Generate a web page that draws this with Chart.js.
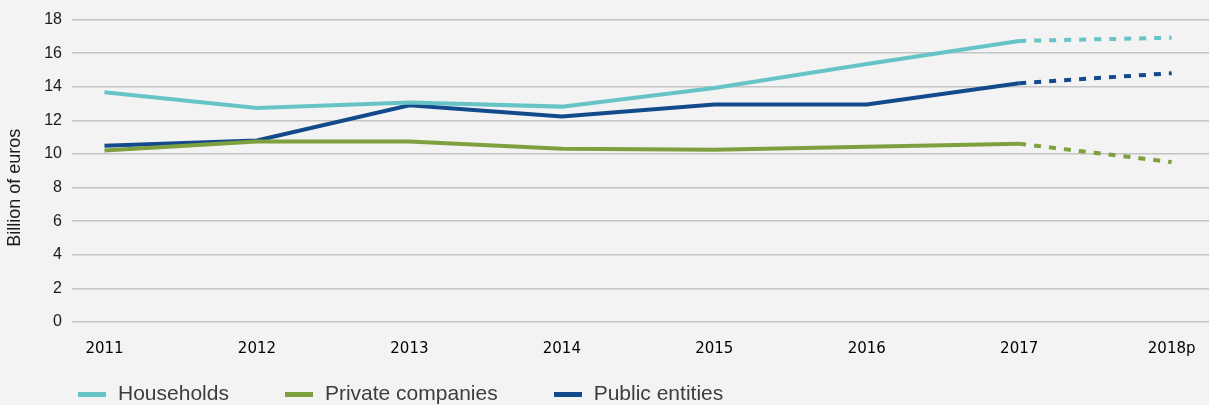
<!DOCTYPE html>
<html>
<head>
<meta charset="utf-8">
<script src="https://cdn.jsdelivr.net/npm/chart.js@4/dist/chart.umd.min.js"></script>
<style>
  html, body { margin: 0; padding: 0; background: #f3f3f3; }
  #wrap { position: relative; width: 1209px; height: 405px; background: #f3f3f3; }
  #legend {
    position: absolute; left: 78px; top: 381px;
    display: flex; gap: 56px;
    font-family: "Liberation Sans", Arial, sans-serif; font-size: 21px; color: #3d3d3d;
  }
  #legend .item { display: flex; align-items: center; }
  #legend .box { width: 28px; height: 5px; margin-right: 12px; margin-top: 2px; }
</style>
</head>
<body>
<div id="wrap">
  <canvas id="chart" width="1209" height="405"></canvas>
  <div id="legend"></div>
</div>
<script>
const years = ['2011', '2012', '2013', '2014', '2015', '2016', '2017', '2018p'];
const households = [13.68, 12.74, 13.06, 12.82, 13.93, 15.36, 16.73, 16.92];
const privateCompanies = [10.21, 10.75, 10.75, 10.31, 10.25, 10.43, 10.61, 9.52];
const publicEntities = [10.49, 10.8, 12.9, 12.23, 12.95, 12.95, 14.21, 14.81];
const yTicks = [0, 2, 4, 6, 8, 10, 12, 14, 16, 18];
const yTitle = 'Billion of euros';

// last year is a projection, drawn dashed
const projected = years.indexOf('2018p');

const series = [
  { label: 'Households', values: households, color: '#66c4c6' },
  { label: 'Private companies', values: privateCompanies, color: '#7fa03e' },
  { label: 'Public entities', values: publicEntities, color: '#134a8b' }
];

const datasets = series.map(s => ({
  label: s.label,
  data: s.values.map((v, i) => ({ x: i, y: v })),
  borderColor: s.color,
  backgroundColor: s.color,
  borderWidth: 4,
  pointRadius: 0,
  tension: 0,
  segment: {
    borderDash: ctx => (ctx.p1DataIndex === projected ? [7, 8] : undefined)
  }
}));

// axis title sits a bit lower than the middle of the plot
const axisTitle = {
  id: 'axisTitle',
  afterDraw(chart) {
    const { ctx, chartArea } = chart;
    ctx.save();
    ctx.translate(15, chartArea.top + (chartArea.bottom - chartArea.top) / 2 + 17);
    ctx.rotate(-Math.PI / 2);
    ctx.font = '18px "Liberation Sans", Arial, sans-serif';
    ctx.fillStyle = '#1a1a1a';
    ctx.textAlign = 'center';
    ctx.textBaseline = 'middle';
    ctx.fillText(yTitle, 0, 0);
    ctx.restore();
  }
};

new Chart(document.getElementById('chart'), {
  type: 'line',
  data: { datasets },
  plugins: [axisTitle],
  options: {
    responsive: false,
    devicePixelRatio: 1,
    animation: false,
    layout: { padding: { top: 19, bottom: 40, left: 0, right: 0 } },
    plugins: { legend: { display: false }, tooltip: { enabled: false } },
    scales: {
      x: {
        type: 'linear',
        min: -0.213,
        max: 7.245,
        afterFit: s => {
          s.height = 43;
          // plot runs right to the canvas edge
          s.paddingLeft = 0;
          s.paddingRight = 0;
        },
        grid: { display: false, drawTicks: false },
        border: { display: false },
        ticks: {
          stepSize: 1,
          includeBounds: false,
          autoSkip: false,
          maxRotation: 0,
          padding: 18,
          color: '#000',
          font: { family: '"DejaVu Sans", sans-serif', size: 15 },
          callback: v => years[v]
        }
      },
      y: {
        min: yTicks[0],
        max: yTicks[yTicks.length - 1],
        afterFit: s => { s.width = 72; },
        afterBuildTicks: s => { s.ticks = yTicks.map(v => ({ value: v })); },
        grid: { color: '#c4c4c4', lineWidth: 1.5, drawTicks: false },
        border: { display: false },
        ticks: {
          padding: 10,
          color: '#1a1a1a',
          font: { family: '"Liberation Sans", Arial, sans-serif', size: 16 }
        }
      }
    }
  }
});

const legend = document.getElementById('legend');
series.forEach(s => {
  const item = document.createElement('div');
  item.className = 'item';
  const box = document.createElement('span');
  box.className = 'box';
  box.style.background = s.color;
  const text = document.createElement('span');
  text.textContent = s.label;
  item.appendChild(box);
  item.appendChild(text);
  legend.appendChild(item);
});
</script>
</body>
</html>
